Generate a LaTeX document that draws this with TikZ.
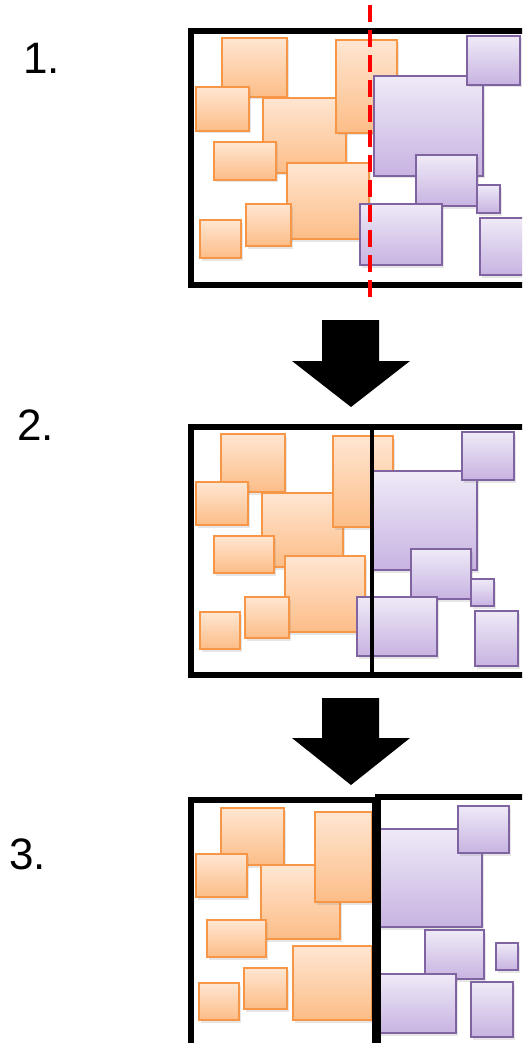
\documentclass[tikz,border=0pt]{standalone}
\usepackage{fontspec}
\setmainfont{Liberation Sans}
\usetikzlibrary{fit,shadows}
\definecolor{oline}{HTML}{F79646}
\definecolor{otop}{HTML}{FFE6D2}
\definecolor{obot}{HTML}{FCBD87}
\definecolor{pline}{HTML}{8064A2}
\definecolor{ptop}{HTML}{EFEAF7}
\definecolor{pbot}{HTML}{C7B3E1}
\definecolor{dashred}{HTML}{FF0000}
\tikzset{
  box/.style={inner sep=0pt, outer sep=0pt, line width=2pt,
    drop shadow={opacity=0.2, shadow xshift=2pt, shadow yshift=-2.5pt}},
  obox/.style={box, draw=oline, top color=otop, bottom color=obot},
  pbox/.style={box, draw=pline, top color=ptop, bottom color=pbot},
  frame/.style={draw=black, line width=6pt},
  lab/.style={font=\fontsize{44}{48}\selectfont, inner sep=0pt, anchor=base west},
  bigarrow/.style={fill=black},
}
\begin{document}
\begin{tikzpicture}[x=1pt,y=-1pt]
\useasboundingbox (0,0) rectangle (522,1043);
\clip (0,0) rectangle (522,1043);
% labels
\node[lab] (l1) at (23,74) {1.};
\node[lab] (l2) at (17,440) {2.};
\node[lab] (l3) at (9,869) {3.};
% ---------- panel 1
\node[obox, fit={(222,38) (287,97)}] (a1) {};
\node[obox, fit={(263,98) (346,173)}] (a3) {};
\node[obox, fit={(196,87) (249,131)}] (a2) {};
\node[obox, fit={(336,40) (397,133)}] (a4) {};
\node[obox, fit={(214,142) (276,180)}] (a5) {};
\node[obox, fit={(287,163) (369,239)}] (a6) {};
\node[obox, fit={(246,204) (291,246)}] (a7) {};
\node[obox, fit={(200,220) (241,258)}] (a8) {};
\node[pbox, fit={(374,76) (483,176)}] (b2) {};
\node[pbox, fit={(467,36) (520,85)}] (b1) {};
\node[pbox, fit={(416,155) (477,206)}] (b3) {};
\node[pbox, fit={(477,185) (500,213)}] (b4) {};
\node[pbox, fit={(360,204) (442,265)}] (b5) {};
\node[pbox, fit={(480,218) (526,275)}] (b6) {};
\draw[frame] (191,31) rectangle (535,285);
\coordinate (r1) at (370,5);
\coordinate (r2) at (370,301);
\draw[dashred, line width=3.5pt, dash pattern=on 17pt off 8pt] (r1) -- (r2);
% arrow 1
\fill[bigarrow] (322,320) -- (379,320) -- (379,361) -- (410,361) -- (351,407) -- (292,361) -- (322,361) -- cycle;
% ---------- panel 2
\node[obox, fit={(221,434) (285,492)}] (c1) {};
\node[obox, fit={(262,493) (343,567)}] (c3) {};
\node[obox, fit={(196,482) (248,525)}] (c2) {};
\node[obox, fit={(333,436) (393,527)}] (c4) {};
\node[obox, fit={(214,536) (274,573)}] (c5) {};
\node[obox, fit={(285,556) (365,632)}] (c6) {};
\node[obox, fit={(245,597) (289,638)}] (c7) {};
\node[obox, fit={(200,612) (240,649)}] (c8) {};
\node[pbox, fit={(371,471) (477,570)}] (d2) {};
\node[pbox, fit={(462,432) (514,480)}] (d1) {};
\node[pbox, fit={(411,549) (471,599)}] (d3) {};
\node[pbox, fit={(471,579) (494,606)}] (d4) {};
\node[pbox, fit={(357,597) (437,656)}] (d5) {};
\node[pbox, fit={(475,611) (518,666)}] (d6) {};
\draw[frame] (191,427) rectangle (535,675);
\coordinate (s1) at (372,427);
\coordinate (s2) at (372,675);
\draw[black, line width=3.5pt] (s1) -- (s2);
% arrow 2
\fill[bigarrow] (322,698) -- (379,698) -- (379,738) -- (410,738) -- (351,785) -- (292,738) -- (322,738) -- cycle;
% ---------- panel 3
\node[obox, fit={(221,808) (284,865)}] (e1) {};
\node[obox, fit={(261,865) (340,939)}] (e3) {};
\node[obox, fit={(196,854) (247,897)}] (e2) {};
\node[obox, fit={(315,812) (372,902)}] (e4) {};
\node[obox, fit={(207,920) (266,957)}] (e5) {};
\node[obox, fit={(293,946) (372,1020)}] (e6) {};
\node[obox, fit={(244,968) (287,1009)}] (e7) {};
\node[obox, fit={(199,983) (239,1020)}] (e8) {};
\node[pbox, fit={(376,829) (482,927)}] (f2) {};
\node[pbox, fit={(458,806) (509,853)}] (f1) {};
\node[pbox, fit={(425,930) (484,979)}] (f3) {};
\node[pbox, fit={(496,943) (518,970)}] (f4) {};
\node[pbox, fit={(376,974) (456,1033)}] (f5) {};
\node[pbox, fit={(471,982) (513,1037)}] (f6) {};
\draw[frame] (191,800) rectangle (375,1060);
\draw[frame] (378,797) rectangle (535,1060);
\end{tikzpicture}
\end{document}
